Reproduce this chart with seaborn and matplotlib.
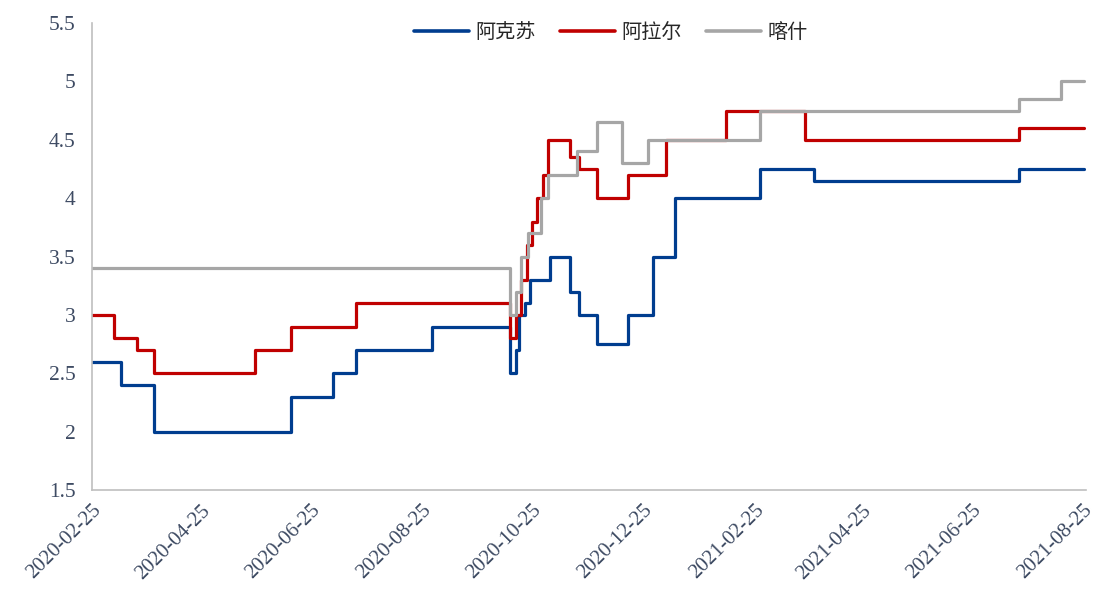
"""Step chart of three price series (阿克苏 / 阿拉尔 / 喀什)."""

import matplotlib

matplotlib.use("Agg")
import matplotlib.dates as mdates
import matplotlib.pyplot as plt
import pandas as pd
import seaborn as sns

SERIES = ["阿克苏", "阿拉尔", "喀什"]
COLORS = ["#003D8F", "#C00000", "#A6A6A6"]

AKS_DATES = [
    "2020-02-25", "2020-03-12", "2020-03-30", "2020-06-14", "2020-07-07",
    "2020-07-20", "2020-08-31", "2020-10-13", "2020-10-16", "2020-10-18",
    "2020-10-21", "2020-10-24", "2020-11-04", "2020-11-15", "2020-11-20",
    "2020-11-30", "2020-12-17", "2020-12-31", "2021-01-12", "2021-02-28",
    "2021-03-30", "2021-07-21", "2021-08-26",
]
AKS_VALUES = [
    2.6, 2.4, 2.0, 2.3, 2.5,
    2.7, 2.9, 2.5, 2.7, 3.0,
    3.1, 3.3, 3.5, 3.2, 3.0,
    2.75, 3.0, 3.5, 4.0, 4.25,
    4.15, 4.25, 4.25,
]

ALR_DATES = [
    "2020-02-25", "2020-03-08", "2020-03-21", "2020-03-30", "2020-05-25",
    "2020-06-14", "2020-07-20", "2020-10-13", "2020-10-16", "2020-10-19",
    "2020-10-22", "2020-10-25", "2020-10-28", "2020-10-31", "2020-11-03",
    "2020-11-15", "2020-11-20", "2020-11-30", "2020-12-17", "2021-01-07",
    "2021-02-09", "2021-03-25", "2021-07-21", "2021-08-26",
]
ALR_VALUES = [
    3.0, 2.8, 2.7, 2.5, 2.7,
    2.9, 3.1, 2.8, 3.0, 3.3,
    3.6, 3.8, 4.0, 4.2, 4.5,
    4.35, 4.25, 4.0, 4.2, 4.5,
    4.75, 4.5, 4.6, 4.6,
]

KS_DATES = [
    "2020-02-25", "2020-10-13", "2020-10-16", "2020-10-19", "2020-10-23",
    "2020-10-30", "2020-11-03", "2020-11-19", "2020-11-30", "2020-12-14",
    "2020-12-28", "2021-02-28", "2021-07-21", "2021-08-13", "2021-08-26",
]
KS_VALUES = [
    3.4, 3.0, 3.2, 3.5, 3.7,
    4.0, 4.2, 4.4, 4.65, 4.3,
    4.5, 4.75, 4.85, 5.0, 5.0,
]

Y_TICKS = [1.5, 2, 2.5, 3, 3.5, 4, 4.5, 5, 5.5]
X_TICKS = [
    "2020-02-25", "2020-04-25", "2020-06-25", "2020-08-25", "2020-10-25",
    "2020-12-25", "2021-02-25", "2021-04-25", "2021-06-25", "2021-08-25",
]

TEXT_COLOR = "#3E4B63"
AXIS_COLOR = "#BFBFBF"

frames = []
for name, dates, values in (
    (SERIES[0], AKS_DATES, AKS_VALUES),
    (SERIES[1], ALR_DATES, ALR_VALUES),
    (SERIES[2], KS_DATES, KS_VALUES),
):
    frames.append(
        pd.DataFrame({"date": pd.to_datetime(dates), "value": values, "city": name})
    )
df = pd.concat(frames, ignore_index=True)

sns.set_theme(style="white")
plt.rcParams["font.family"] = ["Liberation Serif", "Noto Sans CJK SC"]

fig = plt.figure(figsize=(11.11, 5.99), dpi=100)
ax = fig.add_axes([0.0828, 0.182, 0.8947, 0.7795])

sns.lineplot(
    data=df,
    x="date",
    y="value",
    hue="city",
    hue_order=SERIES,
    palette=COLORS,
    estimator=None,
    sort=False,
    drawstyle="steps-post",
    linewidth=2.3,
    legend=False,
    ax=ax,
)

ax.set_xlim(pd.Timestamp("2020-02-25"), pd.Timestamp("2021-08-27"))
ax.set_ylim(1.5, 5.5)
ax.set_yticks(Y_TICKS)
ax.set_yticklabels([f"{v:g}" for v in Y_TICKS])
ax.set_xticks(pd.to_datetime(X_TICKS))
ax.xaxis.set_major_formatter(mdates.DateFormatter("%Y-%m-%d"))
ax.set_xlabel("")
ax.set_ylabel("")

for side in ("top", "right"):
    ax.spines[side].set_visible(False)
for side in ("left", "bottom"):
    ax.spines[side].set_color(AXIS_COLOR)
    ax.spines[side].set_linewidth(1.2)

ax.tick_params(
    axis="y", direction="out", length=6, width=1, color=AXIS_COLOR,
    labelsize=15.5, labelcolor=TEXT_COLOR, pad=6,
)
ax.tick_params(
    axis="x", direction="out", length=6, width=1, color=AXIS_COLOR,
    labelsize=15, labelcolor=TEXT_COLOR, pad=2,
)
for lbl in ax.get_xticklabels():
    lbl.set_rotation(45)
    lbl.set_ha("right")
    lbl.set_rotation_mode("anchor")

handles = [
    plt.Line2D([], [], color=c, linewidth=2.6) for c in COLORS
]
fig.legend(
    handles,
    SERIES,
    loc="upper center",
    bbox_to_anchor=(611 / 1111, 1 - 4 / 599),
    ncol=3,
    frameon=False,
    handlelength=2.7,
    handletextpad=0.35,
    columnspacing=1.2,
    prop={"family": ["Noto Sans CJK SC"], "size": 14.5},
)

fig.savefig("out.png", dpi=100)
